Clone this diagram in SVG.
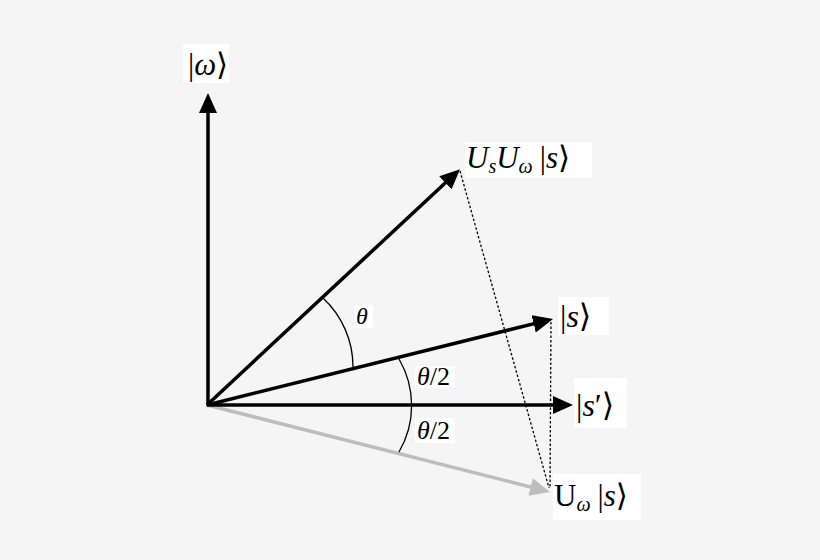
<svg xmlns="http://www.w3.org/2000/svg" width="820" height="560" viewBox="0 0 820 560">
<style>
.lbl{font-family:"Liberation Serif","DejaVu Serif",serif;fill:#000}
.it{font-style:italic}
.box{fill:#fff}
.vec{stroke:#000;stroke-width:3.5;fill:none}
.gvec{stroke:#bdbdbd;stroke-width:3.5;fill:none}
.dot{stroke:#000;stroke-width:1.3;stroke-dasharray:2.5 2;fill:none}
.arc{stroke:#000;stroke-width:1.3;fill:none}
</style>
<defs>
<marker id="ah" viewBox="0 0 20 18" refX="10" refY="9" markerWidth="20" markerHeight="18" markerUnits="userSpaceOnUse" orient="auto">
<path d="M0,0 L20,9 L0,18 z" fill="#000"/>
</marker>
<marker id="ahg" viewBox="0 0 20 18" refX="10" refY="9" markerWidth="20" markerHeight="18" markerUnits="userSpaceOnUse" orient="auto">
<path d="M0,0 L20,9 L0,18 z" fill="#bdbdbd"/>
</marker>
</defs>
<rect width="820" height="560" fill="#f5f5f5"/>
<g id="connectors">
<line class="gvec" x1="207" y1="405" x2="540.3" y2="489.5" marker-end="url(#ahg)"/>
<line class="vec" x1="208" y1="406" x2="208" y2="103" stroke-width="3" marker-end="url(#ah)"/>
<line class="vec" x1="207" y1="405" x2="452.7" y2="176" marker-end="url(#ah)"/>
<line class="vec" x1="207" y1="405" x2="543.3" y2="321.4" marker-end="url(#ah)"/>
<line class="vec" x1="207" y1="405" x2="563" y2="405" stroke-width="3" marker-end="url(#ah)"/>
<line class="dot" x1="460" y1="171" x2="549" y2="488"/>
<line class="dot" x1="551" y1="322" x2="550" y2="488"/>
<path class="arc" d="M323,298 A94,94 0 0 1 353,367"/>
<path class="arc" d="M399,359 A92,92 0 0 1 399,452"/>
</g>
<g id="theta">
<rect class="box" x="354" y="305" width="19" height="23"/>
<text class="lbl it" x="356" y="324" font-size="24">θ</text>
</g>
<g id="theta-half-1">
<rect class="box" x="415" y="366" width="40" height="22"/>
<text class="lbl" x="417" y="385" font-size="26"><tspan class="it">θ</tspan>/2</text>
</g>
<g id="theta-half-2">
<rect class="box" x="415" y="418" width="40" height="25"/>
<text class="lbl" x="417" y="439" font-size="26"><tspan class="it">θ</tspan>/2</text>
</g>
<g id="omega">
<rect class="box" x="183" y="44" width="46" height="39"/>
<text class="lbl" x="188" y="75" font-size="31">|<tspan class="it">ω</tspan>⟩</text>
</g>
<g id="usuw-s">
<rect class="box" x="465" y="142" width="127" height="36"/>
<text class="lbl" x="466" y="168" font-size="31"><tspan class="it">U</tspan><tspan class="it" font-size="20" dy="5">s</tspan><tspan class="it" dy="-5">U</tspan><tspan class="it" font-size="20" dy="5">ω</tspan><tspan dy="-5" dx="7">|</tspan><tspan class="it">s</tspan>⟩</text>
</g>
<g id="s">
<rect class="box" x="558" y="297" width="51" height="38"/>
<text class="lbl" x="560" y="327" font-size="32">|<tspan class="it">s</tspan>⟩</text>
</g>
<g id="s-prime">
<rect class="box" x="574" y="378" width="53" height="50"/>
<text class="lbl" x="576" y="416" font-size="32">|<tspan class="it">s</tspan>′⟩</text>
</g>
<g id="uw-s">
<rect class="box" x="553" y="474" width="88" height="46"/>
<text class="lbl" x="554" y="506" font-size="31">U<tspan class="it" font-size="20" dy="5">ω</tspan><tspan dy="-5" dx="7">|</tspan><tspan class="it">s</tspan>⟩</text>
</g>
</svg>
